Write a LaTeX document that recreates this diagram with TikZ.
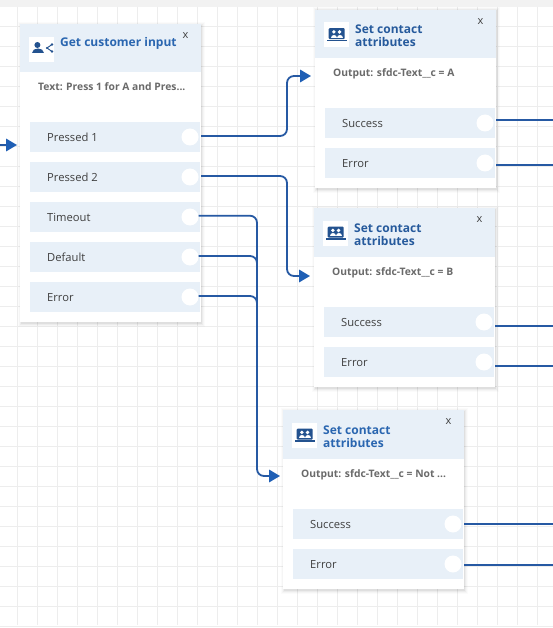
\documentclass[tikz,border=0pt]{standalone}
\usepackage{fontspec}
\setmainfont{Open Sans}
\usetikzlibrary{arrows.meta,calc}
\definecolor{gridc}{HTML}{EDEDED}
\definecolor{band}{HTML}{E8F0F8}
\definecolor{wire}{HTML}{2659A3}
\definecolor{tipc}{HTML}{1F5FB5}
\definecolor{titlec}{HTML}{2A66B0}
\definecolor{iconc}{HTML}{23528F}
\definecolor{txtc}{HTML}{6A6A6A}
\definecolor{rowtxt}{HTML}{3F3F3F}
\tikzset{
  x=1pt,y=-1pt,
  cardbox/.style={fill=white,draw=none,inner sep=0pt,anchor=north west},
  headbox/.style={fill=band,draw=none,inner sep=0pt,anchor=north west},
  rowbox/.style={fill=band,draw=none,inner sep=0pt,anchor=north west,minimum width=170pt,minimum height=30pt},
  rowlabel/.style={inner sep=0pt,anchor=base west,font=\fontsize{11.2}{13}\selectfont,text=rowtxt},
  portdot/.style={circle,fill=white,draw=none,inner sep=0pt,minimum size=17pt},
  titletext/.style={inner sep=0pt,anchor=north west,align=left,font=\fontsize{12}{13}\selectfont\bfseries,text=titlec},
  infotext/.style={inner sep=0pt,anchor=base west,font=\fontsize{10.3}{12}\selectfont\bfseries,text=txtc},
  closex/.style={inner sep=0pt,font=\fontsize{11}{11}\selectfont,text=black!75},
  iconbox/.style={fill=white,draw=none,inner sep=0pt,minimum size=25pt,anchor=north west},
  flow/.style={draw=wire,line width=1.8pt,rounded corners=7pt},
  flowarrow/.style={flow,-{Triangle[length=11pt,width=12.5pt,color=tipc]}},
}
% #1 name, #2 x, #3 y, #4 h, #5 header h
\newcommand{\cardbase}[5]{%
  \foreach \s/\o in {4/0.015,3/0.025,2/0.035,1/0.05}{%
    \fill[black,opacity=\o] (#2-\s+2,#3-\s+2) rectangle (#2+181+\s,#3+#4+\s+1);
  }
  \node[cardbox,minimum width=181pt,minimum height=#4 pt] (#1) at (#2,#3) {};
  \node[headbox,minimum width=181pt,minimum height=#5 pt] (#1h) at (#2,#3) {};
  \node[closex] (#1x) at (#2+165.5,#3+12) {x};
  \node[iconbox] (#1ic) at (#2+9,#3+12.5) {};
}
% #1 name, #2 x (card), #3 y (row top), #4 label
\newcommand{\cardrow}[4]{%
  \node[rowbox] (#1) at (#2+10,#3) {};
  \node[rowlabel] (#1t) at (#2+27,#3+19.6) {#4};
  \node[portdot] (#1p) at (#2+170,#3+15) {};
}
\newcommand{\contacticon}[1]{%
  \fill[iconc,rounded corners=1pt] ($(#1)+(-8,-6.5)$) rectangle ($(#1)+(8,4.5)$);
  \fill[iconc] ($(#1)+(-10,5.2)$) rectangle ($(#1)+(10,6.5)$);
  \fill[white] ($(#1)+(-2.8,-2.8)$) circle (1.9);
  \fill[white] ($(#1)+(2.8,-2.8)$) circle (1.9);
  \fill[white] ($(#1)+(-6,3)$) .. controls ($(#1)+(-6,-1)$) and ($(#1)+(0,-1)$) .. ($(#1)+(0,3)$) -- cycle;
  \fill[white] ($(#1)+(0,3)$) .. controls ($(#1)+(0,-1)$) and ($(#1)+(6,-1)$) .. ($(#1)+(6,3)$) -- cycle;
}
\begin{document}
\begin{tikzpicture}
\useasboundingbox (0,0) rectangle (553,628);
\fill[white] (0,0) rectangle (553,628);
\fill[black!5] (0,0) rectangle (553,7);
\foreach \gx in {17.5,37.5,...,557.5}{\draw[gridc,line width=.7pt] (\gx,7) -- (\gx,625);}
\foreach \gy in {26,46,...,626}{\draw[gridc,line width=.7pt] (0,\gy) -- (553,\gy);}

% card 1
\cardbase{a}{20}{24}{298}{48}
\node[titletext] (at) at (60,37.5) {Get customer input};
\node[infotext] (ai) at (38,90.5) {Text: Press 1 for A and Pres...};
\cardrow{a1}{20}{122}{Pressed 1}
\cardrow{a2}{20}{162}{Pressed 2}
\cardrow{a3}{20}{202}{Timeout}
\cardrow{a4}{20}{242}{Default}
\cardrow{a5}{20}{282}{Error}
\fill[iconc] (37.4,45) circle (3);
\fill[iconc] (32,53.5) .. controls (32,47.5) and (44,47.5) .. (44,53.5) -- cycle;
\draw[iconc,line width=.9pt] (52,44.5) -- (47,48) -- (52,51.5);
\fill[iconc] (52,44.5) circle (1.3) (52,51.5) circle (1.3) (47,48) circle (1.1);

% card 2
\cardbase{b}{315}{9.5}{178.5}{48.5}
\node[titletext,text=iconc!60!titlec] (bt) at (355,24.5) {Set contact\\attributes};
\node[infotext] (bi) at (333,76.5) {Output: sfdc-Text\_\_c = A};
\cardrow{b1}{315}{108}{Success}
\cardrow{b2}{315}{148}{Error}
\contacticon{bic}

% card 3
\cardbase{c}{314}{208}{179}{49}
\node[titletext,text=iconc!60!titlec] (ct) at (354,223.5) {Set contact\\attributes};
\node[infotext] (ci) at (332,275.5) {Output: sfdc-Text\_\_c = B};
\cardrow{c1}{314}{307}{Success}
\cardrow{c2}{314}{347}{Error}
\contacticon{cic}

% card 4
\cardbase{d}{283}{410}{179}{49}
\node[titletext] (dt) at (323,425.5) {Set contact\\attributes};
\node[infotext] (di) at (301,477.5) {Output: sfdc-Text\_\_c = Not ...};
\cardrow{d1}{283}{509}{Success}
\cardrow{d2}{283}{549}{Error}
\contacticon{dic}

% free ends
\coordinate (ain0) at (0,145);
\coordinate (ain) at (17,145);
\coordinate (bin) at (311,76);
\coordinate (cin) at (310,276);
\coordinate (din) at (280,476);
\coordinate (bo1) at (553,120);
\coordinate (bo2) at (553,165);
\coordinate (co1) at (553,326);
\coordinate (co2) at (553,366);
\coordinate (do1) at (553,524);
\coordinate (do2) at (553,565);

% connectors
\draw[flowarrow] (ain0) -- (ain);
\draw[flowarrow] ([shift={(2.5,-1)}]a1p.east) -| (287,76) -- (bin);
\draw[flowarrow] ([shift={(2.5,-1)}]a2p.east) -| (287,276) -- (cin);
\draw[flowarrow] ([shift={(0,-1.3)}]a3p.east) -| (257,476) -- (din);
\draw[flow] ([shift={(0,-1)}]a4p.east) -| (257,290);
\draw[flow] ([shift={(0,-1)}]a5p.east) -| (257,330);
\draw[flow] (bo1 -| b.east) -- (bo1);
\draw[flow] (bo2 -| b.east) -- (bo2);
\draw[flow] (co1 -| c.east) -- (co1);
\draw[flow] (co2 -| c.east) -- (co2);
\draw[flow] (do1 -| d.east) -- (do1);
\draw[flow] (do2 -| d.east) -- (do2);
\end{tikzpicture}
\end{document}
